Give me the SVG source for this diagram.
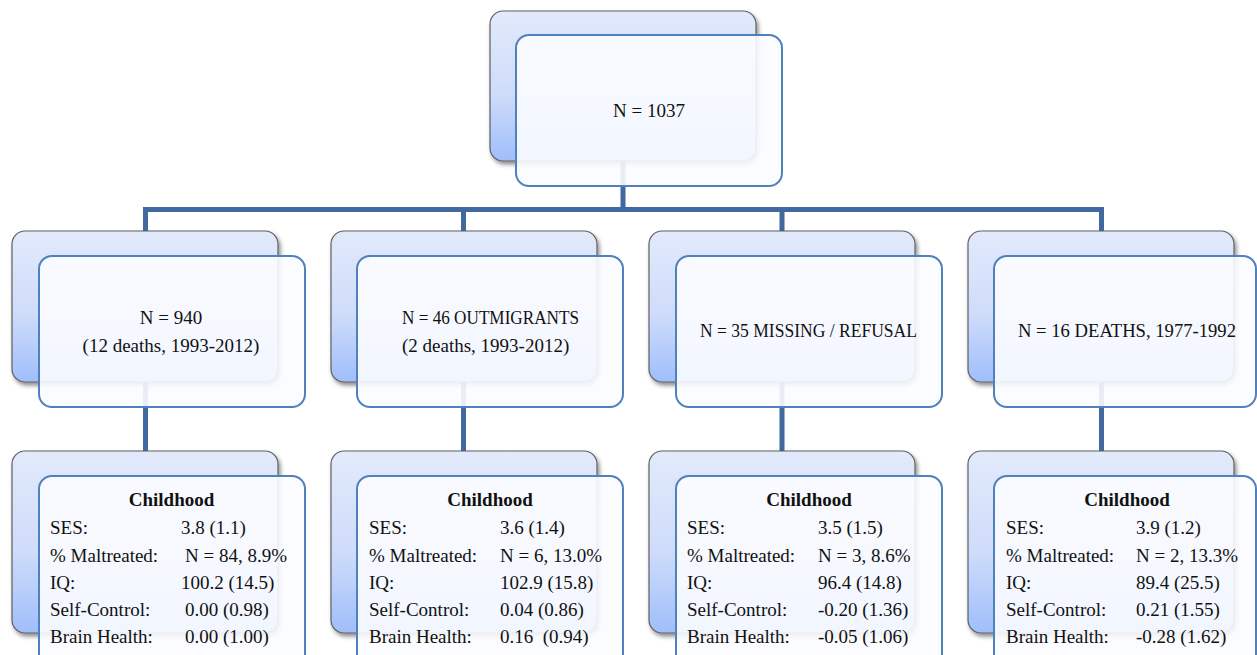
<svg xmlns="http://www.w3.org/2000/svg" width="1257" height="655" viewBox="0 0 1257 655">
<defs>
<linearGradient id="bg" x1="0" y1="0" x2="0" y2="1">
<stop offset="0" stop-color="#e2eafb"/>
<stop offset="0.55" stop-color="#cfdcfa"/>
<stop offset="1" stop-color="#9fbefb"/>
</linearGradient>
<filter id="sh" x="-10%" y="-10%" width="125%" height="130%">
<feDropShadow dx="2" dy="3" stdDeviation="2" flood-color="#000" flood-opacity="0.45"/>
</filter>
</defs>
<style>
.back{fill:url(#bg);stroke:#606060;stroke-width:1.2;filter:url(#sh)}
.front{fill:#fbfcff;fill-opacity:0.9;stroke:#4f81bd;stroke-width:2}
.conn{fill:none;stroke:#41699f;stroke-width:5}
text{font-family:"Liberation Serif","DejaVu Serif",serif;font-size:19px;fill:#111}
.c{text-anchor:middle}
.b{font-weight:bold}
</style>
<g id="connectors">
<path class="conn" d="M623 160V210M145.5 231V209.5H1101.5V231M463.5 209.5V231M782 209.5V231"/>
<path class="conn" d="M145.5 382V451M463.5 382V451M782 382V451M1101.5 382V451"/>
</g>
<g id="n0">
<rect class="back" x="490" y="11" width="266" height="150" rx="13"/>
<rect class="front" x="516" y="35" width="266" height="151" rx="13"/>
<text class="c" x="649" y="117">N = 1037</text>
</g>
<g id="n1">
<rect class="back" x="12" y="231" width="266" height="151" rx="13"/>
<rect class="front" x="39" y="256" width="266" height="151" rx="13"/>
<text class="c" x="171" y="324">N = 940</text>
<text class="c" x="171" y="352">(12 deaths, 1993-2012)</text>
</g>
<g id="n2">
<rect class="back" x="331" y="231" width="266" height="151" rx="13"/>
<rect class="front" x="357" y="256" width="266" height="151" rx="13"/>
<text x="402" y="324" textLength="177" lengthAdjust="spacingAndGlyphs">N = 46 OUTMIGRANTS</text>
<text x="402" y="352">(2 deaths, 1993-2012)</text>
</g>
<g id="n3">
<rect class="back" x="649" y="231" width="266" height="151" rx="13"/>
<rect class="front" x="676" y="256" width="266" height="151" rx="13"/>
<text x="700" y="337" textLength="217" lengthAdjust="spacingAndGlyphs">N = 35 MISSING / REFUSAL</text>
</g>
<g id="n4">
<rect class="back" x="968" y="231" width="266" height="151" rx="13"/>
<rect class="front" x="994" y="256" width="262" height="151" rx="13"/>
<text x="1018" y="337" textLength="218" lengthAdjust="spacingAndGlyphs">N = 16 DEATHS, 1977-1992</text>
</g>
<g id="d1">
<rect class="back" x="12" y="451" width="266" height="182" rx="13"/>
<rect class="front" x="39" y="476" width="266" height="200" rx="13"/>
<text class="c b" x="171.5" y="506">Childhood</text>
<text x="50" y="534">SES:</text><text x="181" y="534">3.8 (1.1)</text>
<text x="50" y="562">% Maltreated:</text><text x="185" y="562">N = 84, 8.9%</text>
<text x="50" y="589">IQ:</text><text x="181" y="589">100.2 (14.5)</text>
<text x="50" y="616">Self-Control:</text><text x="185" y="616">0.00 (0.98)</text>
<text x="50" y="643">Brain Health:</text><text x="185" y="643">0.00 (1.00)</text>
</g>
<g id="d2">
<rect class="back" x="331" y="451" width="266" height="182" rx="13"/>
<rect class="front" x="357" y="476" width="266" height="200" rx="13"/>
<text class="c b" x="490" y="506">Childhood</text>
<text x="369" y="534">SES:</text><text x="500" y="534">3.6 (1.4)</text>
<text x="369" y="562">% Maltreated:</text><text x="500" y="562">N = 6, 13.0%</text>
<text x="369" y="589">IQ:</text><text x="500" y="589">102.9 (15.8)</text>
<text x="369" y="616">Self-Control:</text><text x="500" y="616">0.04 (0.86)</text>
<text x="369" y="643">Brain Health:</text><text x="500" y="643" xml:space="preserve">0.16  (0.94)</text>
</g>
<g id="d3">
<rect class="back" x="649" y="451" width="266" height="182" rx="13"/>
<rect class="front" x="676" y="476" width="266" height="200" rx="13"/>
<text class="c b" x="809" y="506">Childhood</text>
<text x="687" y="534">SES:</text><text x="818" y="534">3.5 (1.5)</text>
<text x="687" y="562">% Maltreated:</text><text x="818" y="562">N = 3, 8.6%</text>
<text x="687" y="589">IQ:</text><text x="818" y="589">96.4 (14.8)</text>
<text x="687" y="616">Self-Control:</text><text x="818" y="616">-0.20 (1.36)</text>
<text x="687" y="643">Brain Health:</text><text x="818" y="643">-0.05 (1.06)</text>
</g>
<g id="d4">
<rect class="back" x="968" y="451" width="266" height="182" rx="13"/>
<rect class="front" x="994" y="476" width="262" height="200" rx="13"/>
<text class="c b" x="1127" y="506">Childhood</text>
<text x="1006" y="534">SES:</text><text x="1136" y="534">3.9 (1.2)</text>
<text x="1006" y="562">% Maltreated:</text><text x="1136" y="562">N = 2, 13.3%</text>
<text x="1006" y="589">IQ:</text><text x="1136" y="589">89.4 (25.5)</text>
<text x="1006" y="616">Self-Control:</text><text x="1136" y="616">0.21 (1.55)</text>
<text x="1006" y="643">Brain Health:</text><text x="1136" y="643">-0.28 (1.62)</text>
</g>
</svg>
